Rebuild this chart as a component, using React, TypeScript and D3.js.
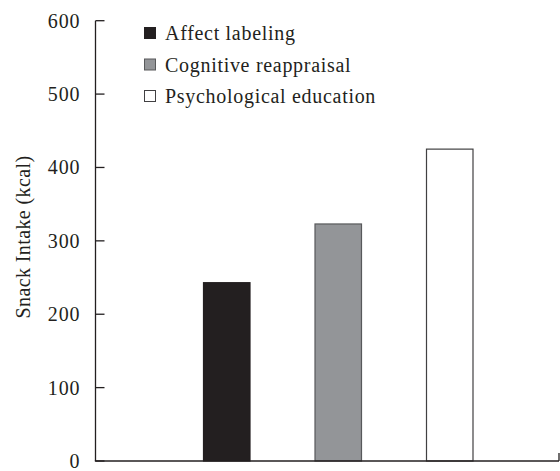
import React from "react";
import * as d3 from "d3";

const categories = ["Affect labeling", "Cognitive reappraisal", "Psychological education"];
const values = [243, 323, 425];
const yTicks = [0, 100, 200, 300, 400, 500, 600];
const fills = ["#231f20", "#939598", "#ffffff"];
const strokes = ["#231f20", "#58595b", "#414042"];

const W = 560, H = 471;
const FONT = "'Liberation Serif', 'Times New Roman', serif";

export default function App() {
  const y = d3.scaleLinear().domain([0, 600]).range([461, 20.7]);
  const x = d3.scaleBand<string>().domain(categories).range([171, 505.5]).paddingInner(0.583).paddingOuter(0.2915);
  const axisX0 = 95.5, axisX1 = 559;
  const legendY = [33, 64.5, 96];
  return (
    <svg width={W} height={H} style={{ position: "absolute", left: 0, top: 0 }}>
      <rect width={W} height={H} fill="#fff" />
      {categories.map((c, i) => (
        <rect key={c} x={x(c)} y={y(values[i])} width={x.bandwidth()} height={y(0) - y(values[i])}
          fill={fills[i]} stroke={strokes[i]} strokeWidth={1.2} />
      ))}
      {/* y axis */}
      <line x1={axisX0} x2={axisX0} y1={y(600)} y2={y(0)} stroke="#231f20" strokeWidth={1.3} />
      {yTicks.map(t => (
        <g key={t}>
          <line x1={axisX0} x2={axisX0 + 9} y1={y(t)} y2={y(t)} stroke="#231f20" strokeWidth={1.3} />
          <text x={80.5} y={y(t)} dy="0.35em" textAnchor="end" fontFamily={FONT} fontSize={20} letterSpacing={0.9} fill="#231f20">{t}</text>
        </g>
      ))}
      {/* x axis */}
      <line x1={axisX0 - 0.65} x2={axisX1} y1={y(0)} y2={y(0)} stroke="#231f20" strokeWidth={1.3} />
      <line x1={axisX1} x2={axisX1} y1={y(0)} y2={y(0) - 8} stroke="#231f20" strokeWidth={1.3} />
      <text transform={`translate(30,${237}) rotate(-90)`} textAnchor="middle" fontFamily={FONT} fontSize={20} letterSpacing={0.4} fill="#231f20">Snack Intake (kcal)</text>
      {categories.map((c, i) => (
        <g key={c}>
          <rect x={144.5} y={legendY[i] - 5.5} width={11} height={11} fill={fills[i]} stroke={strokes[i]} strokeWidth={1} />
          <text x={165} y={legendY[i]} dy="0.35em" fontFamily={FONT} fontSize={20} letterSpacing={0.7} fill="#231f20">{c}</text>
        </g>
      ))}
    </svg>
  );
}
